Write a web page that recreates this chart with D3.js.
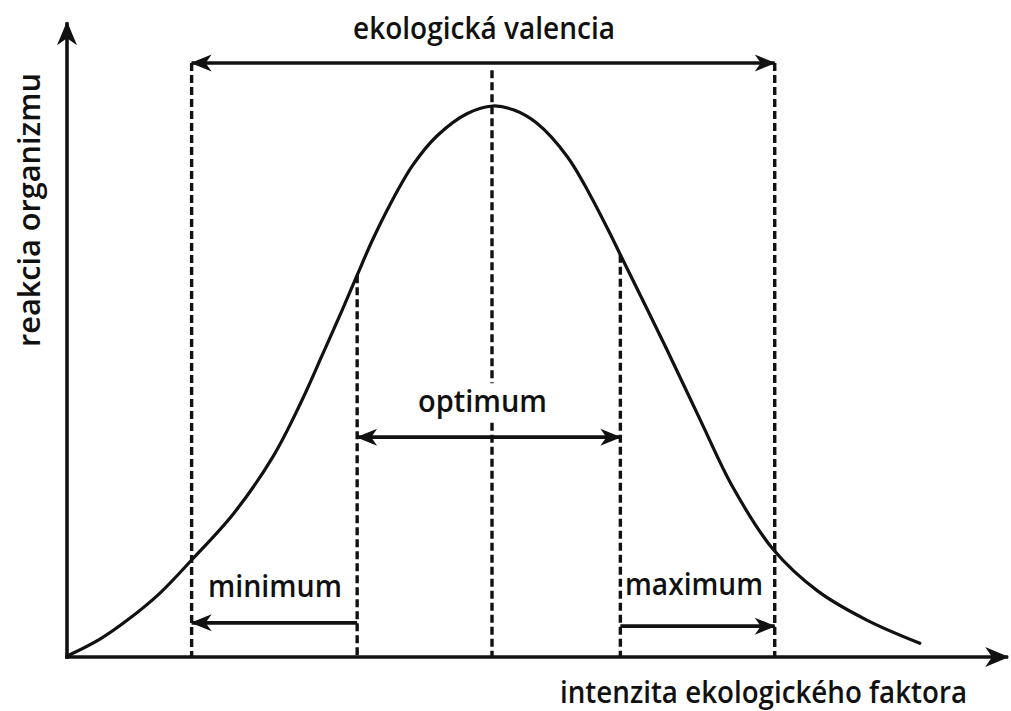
<!DOCTYPE html>
<html>
<head>
<meta charset="utf-8">
<script src="https://cdn.jsdelivr.net/npm/d3@7"></script>
<style>
	body { margin: 0; background: #fff; }
	text { font-family: 'Open Sans', sans-serif; fill: #111; font-weight: 600; }
</style>
</head>
<body>
<svg id="chart"></svg>
<script>
// response curve (intensity 0..100, response 0..100)
const curveX = [0.3, 3.5, 6.5, 10.0, 13.4, 17.9, 22.2, 25.1, 27.5, 29.6, 31.2, 32.8, 34.7, 37.2, 39.8, 43.0, 45.8, 48.0, 50.5, 53.8, 56.2, 58.4, 59.5, 64.5, 68.1, 71.6, 75.9, 80.7, 86.0, 91.7]
const curveY = [0.4, 3.2, 6.7, 11.6, 17.6, 26.0, 36.5, 46.0, 55.0, 63.0, 69.3, 75.5, 82.0, 89.3, 94.6, 98.6, 100, 99.3, 96.9, 90.8, 84.0, 76.8, 73.0, 55.8, 43.0, 30.8, 19.6, 12.0, 6.7, 2.5]

// vertical dashed markers: x position, top (response units)
const markerNames = ['valMin', 'optMin', 'peak', 'optMax', 'valMax']
const markerX = [13.4, 31.2, 45.7, 59.5, 76.1]
const markerTop = [107.8, 69.3, 106.5, 73.0, 107.8]

// range arrows: from, to, level
const rangeLabels = ['ekologická valencia', 'optimum', 'minimum', 'maximum']
const rangeFrom = [76.1, 31.2, 31.2, 59.5]
const rangeTo = [13.4, 59.5, 13.4, 76.1]
const rangeLevel = [107.8, 39.9, 6.2, 5.6]
const rangeBoth = [true, true, false, false]

const outerWidth = 1011
const outerHeight = 711

const svg = d3.select('#chart')
	.attr('width', outerWidth)
	.attr('height', outerHeight)

const x = d3.scaleLinear().domain([0, 100]).range([67, 997])
const y = d3.scaleLinear().domain([0, 100]).range([657, 106])

const defs = svg.append('defs')
function head(id, len, half) {
	defs.append('marker')
		.attr('id', id)
		.attr('markerUnits', 'userSpaceOnUse')
		.attr('viewBox', `${-len - 2} ${-half - 2} ${len + 4} ${half * 2 + 4}`)
		.attr('refX', 0)
		.attr('refY', 0)
		.attr('markerWidth', len + 4)
		.attr('markerHeight', half * 2 + 4)
		.attr('orient', 'auto-start-reverse')
		.append('path')
		.attr('d', `M1,0 L${-len},${-half} L${-len * 0.7},0 L${-len},${half} Z`)
		.attr('fill', '#111')
}
head('axisHead', 23, 10)
head('rangeHead', 20, 8.5)

// axes
svg.append('line')
	.attr('x1', x(0)).attr('y1', y(0) + 1.8)
	.attr('x2', x(0)).attr('y2', y(115.2))
	.attr('stroke', '#111').attr('stroke-width', 3.6)
	.attr('marker-end', 'url(#axisHead)')
svg.append('line')
	.attr('x1', x(0) - 1.8).attr('y1', y(0))
	.attr('x2', x(101.2)).attr('y2', y(0))
	.attr('stroke', '#111').attr('stroke-width', 3.6)
	.attr('marker-end', 'url(#axisHead)')

// dashed verticals
const gapFrom = 49.7, gapTo = 42.5
markerX.forEach((mx, i) => {
	const segs = markerNames[i] === 'peak'
		? [[markerTop[i], gapFrom], [gapTo, 0]]
		: [[markerTop[i], 0]]
	segs.forEach(s => {
		svg.append('line')
			.attr('x1', x(mx)).attr('x2', x(mx))
			.attr('y1', y(s[0])).attr('y2', y(s[1]))
			.attr('stroke', '#111')
			.attr('stroke-width', 3.4)
			.attr('stroke-dasharray', '8,4')
	})
})

// curve
const line = d3.line()
	.x(d => x(d[0]))
	.y(d => y(d[1]))
	.curve(d3.curveCatmullRom.alpha(0.5))
svg.append('path')
	.datum(d3.zip(curveX, curveY))
	.attr('d', line)
	.attr('fill', 'none')
	.attr('stroke', '#111')
	.attr('stroke-width', 3.2)
	.attr('stroke-linecap', 'round')

// range arrows
rangeLabels.forEach((lab, i) => {
	const l = svg.append('line')
		.attr('x1', x(rangeFrom[i])).attr('x2', x(rangeTo[i]))
		.attr('y1', y(rangeLevel[i])).attr('y2', y(rangeLevel[i]))
		.attr('stroke', '#111').attr('stroke-width', 3.6)
		.attr('marker-end', 'url(#rangeHead)')
	if (rangeBoth[i]) l.attr('marker-start', 'url(#rangeHead)')
})

// labels
const labels = [
	{ t: 'ekologická valencia', x: 353, y: 39, w: 262 },
	{ t: 'optimum', x: 418, y: 412, w: 129 },
	{ t: 'minimum', x: 208, y: 597, w: 134 },
	{ t: 'maximum', x: 625, y: 595, w: 138 },
	{ t: 'intenzita ekologického faktora', x: 560, y: 703, w: 407 },
]
labels.forEach(d => {
	svg.append('text')
		.attr('x', d.x).attr('y', d.y)
		.attr('font-size', 30)
		.attr('textLength', d.w)
		.attr('lengthAdjust', 'spacingAndGlyphs')
		.text(d.t)
})
svg.append('text')
	.attr('transform', 'translate(40,347) rotate(-90)')
	.attr('font-size', 30)
	.attr('textLength', 274)
	.attr('lengthAdjust', 'spacingAndGlyphs')
	.text('reakcia organizmu')
</script>
</body>
</html>
